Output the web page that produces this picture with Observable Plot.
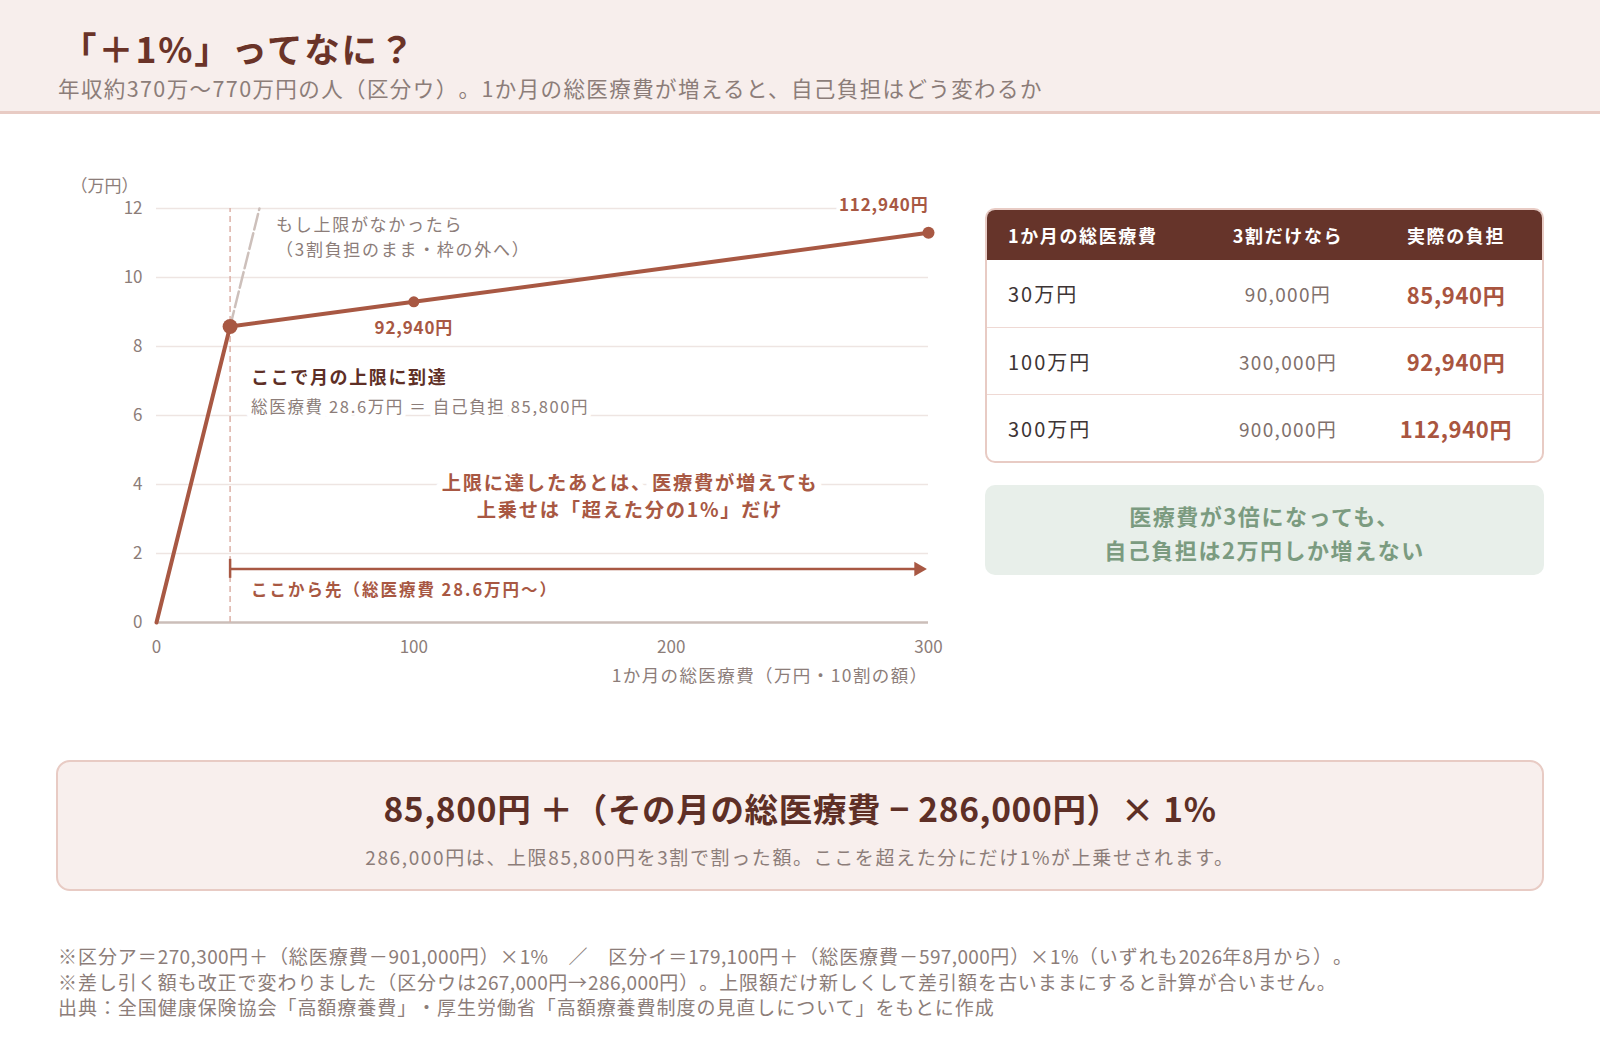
<!DOCTYPE html>
<html lang="ja">
<head>
<meta charset="utf-8">
<script src="https://cdn.jsdelivr.net/npm/d3@7"></script>
<script src="https://cdn.jsdelivr.net/npm/@observablehq/plot@0.6"></script>
<style>
html,body{margin:0;padding:0;background:#fff;}
body{width:1600px;height:1040px;position:relative;overflow:hidden;font-family:"Noto Sans CJK JP","Noto Sans",sans-serif;text-spacing-trim:space-all;}
svg, svg text{text-spacing-trim:space-all;}
.abs{position:absolute;white-space:nowrap;}
#header{position:absolute;left:0;top:0;width:1600px;height:111px;background:#f7eeec;border-bottom:3px solid #e8cbc4;}
#title{left:61px;top:28px;line-height:40px;font-size:35.5px;font-weight:700;color:#6a3328;letter-spacing:0.05em;}
#subtitle{left:58px;top:73px;line-height:30px;font-size:21.5px;color:#8c7d79;letter-spacing:0.065em;}
#chart{position:absolute;left:0;top:160px;}
#table{position:absolute;left:985px;top:208px;width:559px;height:255px;box-sizing:border-box;border:2px solid #e8cbc4;border-radius:10px;overflow:hidden;background:#fff;}
.row{position:relative;height:67px;box-sizing:border-box;}
.row + .row{border-top:1.5px solid #efd9d4;}
.hrow{position:relative;height:50px;background:#66342a;}
.cell{position:absolute;top:0;bottom:0;display:flex;align-items:center;white-space:nowrap;}
.c1{left:21px;}
.c2{left:301px;transform:translateX(-50%);}
.c3{left:469px;transform:translateX(-50%);}
.hrow .cell{color:#fff;font-weight:700;font-size:18px;letter-spacing:0.09em;}
.row .c1{color:#3d3434;font-size:20px;letter-spacing:0.1em;}
.row .c2{color:#7f706c;font-size:19px;letter-spacing:0.07em;}
.row .c3{color:#a9553f;font-size:22px;font-weight:700;letter-spacing:0.03em;}
#green{position:absolute;left:985px;top:485px;width:559px;height:90px;background:#e8efea;border-radius:10px;color:#7b9b80;font-weight:700;font-size:22px;letter-spacing:0.07em;text-align:center;line-height:34px;box-sizing:border-box;padding-top:13px;}
#formula{position:absolute;left:56px;top:760px;width:1488px;height:131px;box-sizing:border-box;background:#f8efed;border:2px solid #e8cbc4;border-radius:14px;}
#fmain{position:absolute;left:0;right:0;top:21px;line-height:50px;text-align:center;font-size:33.5px;font-weight:700;color:#5e2f26;letter-spacing:0.02em;white-space:nowrap;}
#fsub{position:absolute;left:0;right:0;top:80px;line-height:30px;text-align:center;font-size:19px;color:#8c7d79;letter-spacing:0.085em;white-space:nowrap;}
#notes{left:58px;top:943px;font-size:19px;line-height:25.5px;color:#8c7d79;letter-spacing:0.05em;}
#notes .num{letter-spacing:0.02em;}
g[aria-description="note-nocap"] text{letter-spacing:0.1em;}
g[aria-description="note-reach"] text{letter-spacing:0.09em;}
g[aria-description="note-reach-sub"] text{letter-spacing:0.1em;}
g[aria-description="note-mid"] text{letter-spacing:0.09em;}
g[aria-description="note-beyond"] text{letter-spacing:0.12em;}
g[aria-description="value-label"] text{letter-spacing:0.05em;}
g[aria-description="x-title"] text{letter-spacing:0.08em;}
</style>
</head>
<body>
<div id="header"></div>
<div id="title" class="abs"></div>
<div id="subtitle" class="abs"></div>
<div id="chart"></div>
<div id="table"></div>
<div id="green"></div>
<div id="formula"><div id="fmain"></div><div id="fsub"></div></div>
<div id="notes" class="abs"></div>
<script>
// ---- text ----
const titleText = "「＋1%」ってなに？";
const subtitleText = "年収約370万〜770万円の人（区分ウ）。1か月の総医療費が増えると、自己負担はどう変わるか";

// ---- chart data (万円) ----
const totalCost = [0, 28.6, 100, 300];          // 1か月の総医療費
const selfPay   = [0, 8.58, 9.294, 11.294];     // 自己負担
const capCost = 28.6;                           // 上限到達点
const capPay = 8.58;
const noCapCost = [28.6, 40];                   // 3割負担のまま
const noCapPay  = [8.58, 12];
const labelCost = [100, 300];
const labelPay  = [9.294, 11.294];
const labelText = ["92,940円", "112,940円"];
const yTicks = [0, 2, 4, 6, 8, 10, 12];
const xTicks = [0, 100, 200, 300];
const arrowY = 1.55;
const arrowEnd = 296;
const arrowTickSpan = [1.28, 1.83];
const yUnit = "（万円）";
const xTitle = "1か月の総医療費（万円・10割の額）";
const noteNoCap = "もし上限がなかったら\n（3割負担のまま・枠の外へ）";
const noteReach = "ここで月の上限に到達";
const noteReachSub = "総医療費 28.6万円 ＝ 自己負担 85,800円";
const noteMid = "上限に達したあとは、医療費が増えても\n上乗せは「超えた分の1%」だけ";
const noteMidPos = [184, 3.7];
const noteBeyond = "ここから先（総医療費 28.6万円〜）";

// ---- table ----
const tableHead = ["1か月の総医療費", "3割だけなら", "実際の負担"];
const tableCost = ["30万円", "100万円", "300万円"];
const tableFlat = ["90,000円", "300,000円", "900,000円"];
const tableActual = ["85,940円", "92,940円", "112,940円"];
const greenText = ["医療費が3倍になっても、", "自己負担は2万円しか増えない"];
const formulaMain = "85,800円 ＋（その月の総医療費 − 286,000円）× 1%";
const formulaSub = "286,000円は、上限85,800円を3割で割った額。ここを超えた分にだけ1%が上乗せされます。";
const footNotes = [
  "※区分ア＝270,300円＋（総医療費－901,000円）×1%　／　区分イ＝179,100円＋（総医療費－597,000円）×1%（いずれも2026年8月から）。",
  "※差し引く額も改正で変わりました（区分ウは267,000円→286,000円）。上限額だけ新しくして差引額を古いままにすると計算が合いません。",
  "出典：全国健康保険協会「高額療養費」・厚生労働省「高額療養費制度の見直しについて」をもとに作成"
];

// colors
const rust = "#a85843", gray = "#8c7d79", dark = "#5e2f26";

document.getElementById("title").textContent = titleText;
document.getElementById("subtitle").textContent = subtitleText;

const lineData = totalCost.map((x, i) => ({x, y: selfPay[i]}));
const noCapData = noCapCost.map((x, i) => ({x, y: noCapPay[i]}));
const labelData = labelCost.map((x, i) => ({x, y: labelPay[i], t: labelText[i]}));

const chart = Plot.plot({
  width: 960,
  height: 540,
  marginLeft: 156,
  marginRight: 32,
  marginTop: 48,
  marginBottom: 78,
  x: {domain: [0, 300]},
  y: {domain: [0, 12]},
  style: {fontFamily: '"Noto Sans CJK JP", sans-serif', background: "transparent", overflow: "visible"},
  marks: [
    Plot.gridY(yTicks.filter(d => d > 0), {stroke: "#eee5e2", strokeOpacity: 1, strokeWidth: 1.5}),
    Plot.ruleY([0], {stroke: "#cbbeb9", strokeWidth: 2.5}),
    Plot.axisY(yTicks, {tickSize: 0, tickPadding: 14, fontSize: 17, fill: gray, label: null}),
    Plot.axisX(xTicks, {tickSize: 0, tickPadding: 18, fontSize: 17, fill: gray, label: null}),
    Plot.text([yUnit], {text: d => d, frameAnchor: "top-left", lineAnchor: "middle", dx: -86, dy: -22, textAnchor: "start", fontSize: 17, fill: gray}),
    Plot.text([xTitle], {text: d => d, frameAnchor: "bottom-right", lineAnchor: "middle", dy: 54, textAnchor: "end", fontSize: 17.5, fill: gray, ariaDescription: "x-title"}),
    Plot.ruleX([capCost], {y1: 0, y2: 12, stroke: "#dcb1a7", strokeWidth: 1.5, strokeDasharray: "6 4"}),
    Plot.line(noCapData, {x: "x", y: "y", stroke: "#cdc0bb", strokeWidth: 2.5, strokeDasharray: "16 4"}),
    Plot.ruleY([{y: arrowY, x1: capCost, x2: arrowEnd}], {y: "y", x1: "x1", x2: "x2", stroke: rust, strokeWidth: 2.5}),
    Plot.ruleX([{x: capCost, y1: arrowTickSpan[0], y2: arrowTickSpan[1]}], {x: "x", y1: "y1", y2: "y2", stroke: rust, strokeWidth: 2.5}),
    Plot.dot([{x: 300, y: arrowY}], {x: "x", y: "y", symbol: "triangle", r: 5.4, rotate: 90, dx: -10, fill: rust, stroke: "none"}),
    Plot.line(lineData, {x: "x", y: "y", stroke: rust, strokeWidth: 4, strokeLinejoin: "round", strokeLinecap: "round"}),
    Plot.dot([{x: capCost, y: capPay}], {x: "x", y: "y", r: 7.5, fill: rust, stroke: "none"}),
    Plot.dot([labelData[0]], {x: "x", y: "y", r: 5.5, fill: rust, stroke: "none"}),
    Plot.dot([labelData[1]], {x: "x", y: "y", r: 6, fill: rust, stroke: "none"}),
    Plot.text([labelData[0]], {x: "x", y: "y", text: "t", dy: 27, fontSize: 17, fontWeight: 700, fill: rust, ariaDescription: "value-label"}),
    Plot.text([labelData[1]], {x: "x", y: () => 12, text: "t", dy: -3, textAnchor: "end", fontSize: 17, fontWeight: 700, fill: rust, stroke: "white", strokeWidth: 8, ariaDescription: "value-label"}),
    Plot.text([noteNoCap], {x: () => capCost, y: () => 12, text: d => d, dx: 46, dy: 27, textAnchor: "start", fontSize: 17, lineHeight: 1.47, fill: gray, ariaDescription: "note-nocap"}),
    Plot.text([noteReach], {x: () => capCost, y: () => capPay, text: d => d, dx: 21, dy: 52, textAnchor: "start", fontSize: 18, fontWeight: 700, fill: dark, stroke: "white", strokeWidth: 8, ariaDescription: "note-reach"}),
    Plot.text([noteReachSub], {x: () => capCost, y: () => capPay, text: d => d, dx: 21, dy: 81, textAnchor: "start", fontSize: 16.5, fill: gray, stroke: "white", strokeWidth: 10, ariaDescription: "note-reach-sub"}),
    Plot.text([noteMid], {x: () => noteMidPos[0], y: () => noteMidPos[1], text: d => d, textAnchor: "middle", fontSize: 19.3, lineHeight: 1.4, fontWeight: 700, fill: rust, stroke: "white", strokeWidth: 14, ariaDescription: "note-mid"}),
    Plot.text([noteBeyond], {x: () => capCost, y: () => arrowY, text: d => d, dx: 21, dy: 22, textAnchor: "start", fontSize: 16.5, fontWeight: 700, fill: rust, ariaDescription: "note-beyond"})
  ]
});
document.getElementById("chart").appendChild(chart);

// table
const tbl = document.getElementById("table");
function makeRow(cls, vals) {
  const r = document.createElement("div");
  r.className = cls;
  vals.forEach((v, i) => {
    const c = document.createElement("div");
    c.className = "cell c" + (i + 1);
    c.textContent = v;
    r.appendChild(c);
  });
  tbl.appendChild(r);
}
makeRow("hrow", tableHead);
tableCost.forEach((c, i) => makeRow("row", [c, tableFlat[i], tableActual[i]]));

document.getElementById("green").innerHTML = greenText.join("<br>");
document.getElementById("fmain").textContent = formulaMain;
document.getElementById("fsub").textContent = formulaSub;
const notesEl = document.getElementById("notes");
footNotes.forEach((line, i) => {
  if (i > 0) notesEl.appendChild(document.createElement("br"));
  line.split(/([0-9,%]+)/).forEach((part, j) => {
    if (!part) return;
    if (j % 2 === 1) {
      const s = document.createElement("span");
      s.className = "num";
      s.textContent = part;
      notesEl.appendChild(s);
    } else {
      notesEl.appendChild(document.createTextNode(part));
    }
  });
});
</script>
</body>
</html>
